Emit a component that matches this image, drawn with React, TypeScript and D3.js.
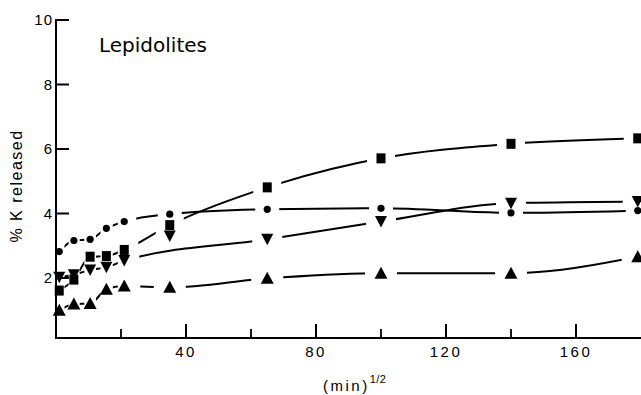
import React from 'react';
import * as d3 from 'd3';

// time values, (min)^1/2
const xVals = [1, 5.5, 10.5, 15.5, 21, 35, 65, 100, 140, 179];
// % K released per sample (marker shape)
const circleVals = [2.82, 3.16, 3.2, 3.54, 3.75, 3.98, 4.13, 4.16, 4.02, 4.09];
const squareVals = [1.61, 1.95, 2.66, 2.68, 2.87, 3.64, 4.81, 5.71, 6.16, 6.33];
const downTriVals = [2.02, 2.1, 2.25, 2.33, 2.54, 3.3, 3.2, 3.75, 4.32, 4.37];
const upTriVals = [1.0, 1.19, 1.21, 1.65, 1.75, 1.71, 1.99, 2.15, 2.15, 2.66];
// fitted curve for the down-triangle series (skips the outlier at 35)
const downTriFitX = [1, 5.5, 10.5, 15.5, 21, 65, 100, 140, 179];
const downTriFitVals = [2.02, 2.1, 2.25, 2.33, 2.54, 3.2, 3.75, 4.32, 4.37];

const yTicks = [2, 4, 6, 8, 10];
const xMajorTicks = [40, 80, 120, 160];
const xMinorTicks = [20, 60, 100, 140];

const FONT = "'Liberation Sans', Arial, sans-serif";

const x = d3.scaleLinear().domain([0, 180]).range([56, 641]);
const y = d3.scaleLinear().domain([0, 10]).range([342.5, 20]);
const axisY = 338;
const lineGen = d3.line<[number, number]>().curve(d3.curveMonotoneX);

function Series({ id, kx, kv, gap }: { id: string; kx: number[]; kv: number[]; gap: number }) {
  const pts: [number, number][] = kx.map((xx, i) => [x(xx), y(kv[i])]);
  // clip the curve into pieces between markers (gaps around each marker)
  const pieces = pts.slice(0, -1).map((p, i) => {
    const q = pts[i + 1];
    const d = q[0] - p[0];
    const g = Math.min(gap, d * 0.36);
    return { x0: p[0] + g, x1: q[0] - g };
  });
  return (
    <g>
      <defs>
        <clipPath id={id}>
          {pieces.map((pc, i) => (
            <rect key={i} x={pc.x0} y={0} width={Math.max(0, pc.x1 - pc.x0)} height={395} />
          ))}
        </clipPath>
      </defs>
      <path d={lineGen(pts) as string} fill="none" stroke="#000" strokeWidth={2} clipPath={`url(#${id})`} />
    </g>
  );
}

export default function App() {
  return (
    <svg width={641} height={395} style={{ position: 'absolute', left: 0, top: 0, background: '#fff' }}>
      {/* axes */}
      <line x1={x(0)} x2={x(0)} y1={y(10) - 1} y2={axisY + 1} stroke="#000" strokeWidth={2} />
      <line x1={x(0) - 1} x2={641} y1={axisY} y2={axisY} stroke="#000" strokeWidth={2} />
      {yTicks.map((t) => (
        <g key={'y' + t}>
          <line x1={x(0)} x2={x(0) + 13} y1={y(t)} y2={y(t)} stroke="#000" strokeWidth={2} />
          <text x={x(0) - 3} y={y(t)} dy="0.36em" textAnchor="end" fontFamily={FONT} fontSize={15}
            letterSpacing={1} fill="#000">{t}</text>
        </g>
      ))}
      {xMajorTicks.map((t) => (
        <g key={'x' + t}>
          <line x1={x(t)} x2={x(t)} y1={axisY} y2={axisY - 14} stroke="#000" strokeWidth={2} />
          <text x={x(t)} y={357} textAnchor="middle" fontFamily={FONT} fontSize={15}
            letterSpacing={2.5} fill="#000">{t}</text>
        </g>
      ))}
      {xMinorTicks.map((t) => (
        <line key={'m' + t} x1={x(t)} x2={x(t)} y1={axisY} y2={axisY - 9} stroke="#000" strokeWidth={1.8} />
      ))}

      {/* titles */}
      <text x={99} y={52} fontFamily="'DejaVu Sans', sans-serif" fontSize={20} fill="#000">Lepidolites</text>
      <text transform="translate(22,186) rotate(-90)" textAnchor="middle" fontFamily={FONT} fontSize={16}
        letterSpacing={1.5} fill="#000">% K released</text>
      <text x={323} y={391} fontFamily={FONT} fontSize={15} letterSpacing={2.5} fill="#000">
        <tspan>(min)</tspan>
        <tspan dy={-8} fontSize={11} letterSpacing={0.5}>1/2</tspan>
      </text>

      {/* curves */}
      <Series id="c-circ" kx={xVals} kv={circleVals} gap={12} />
      <Series id="c-sq" kx={xVals} kv={squareVals} gap={14} />
      <Series id="c-dt" kx={downTriFitX} kv={downTriFitVals} gap={15} />
      <Series id="c-ut" kx={xVals} kv={upTriVals} gap={16} />

      {/* markers */}
      {xVals.map((xx, i) => {
        const cx = x(xx);
        const dy = y(downTriVals[i]);
        const uy = y(upTriVals[i]);
        return (
          <g key={'p' + i}>
            <circle cx={cx} cy={y(circleVals[i])} r={3.6} fill="#000" />
            <rect x={cx - 4.5} y={y(squareVals[i]) - 5} width={9} height={10} fill="#000" />
            <path d={`M${cx - 6},${dy - 5.5}L${cx + 6},${dy - 5.5}L${cx},${dy + 6}Z`} fill="#000" />
            <path d={`M${cx - 6.5},${uy + 5.5}L${cx + 6.5},${uy + 5.5}L${cx},${uy - 6.5}Z`} fill="#000" />
          </g>
        );
      })}
    </svg>
  );
}
